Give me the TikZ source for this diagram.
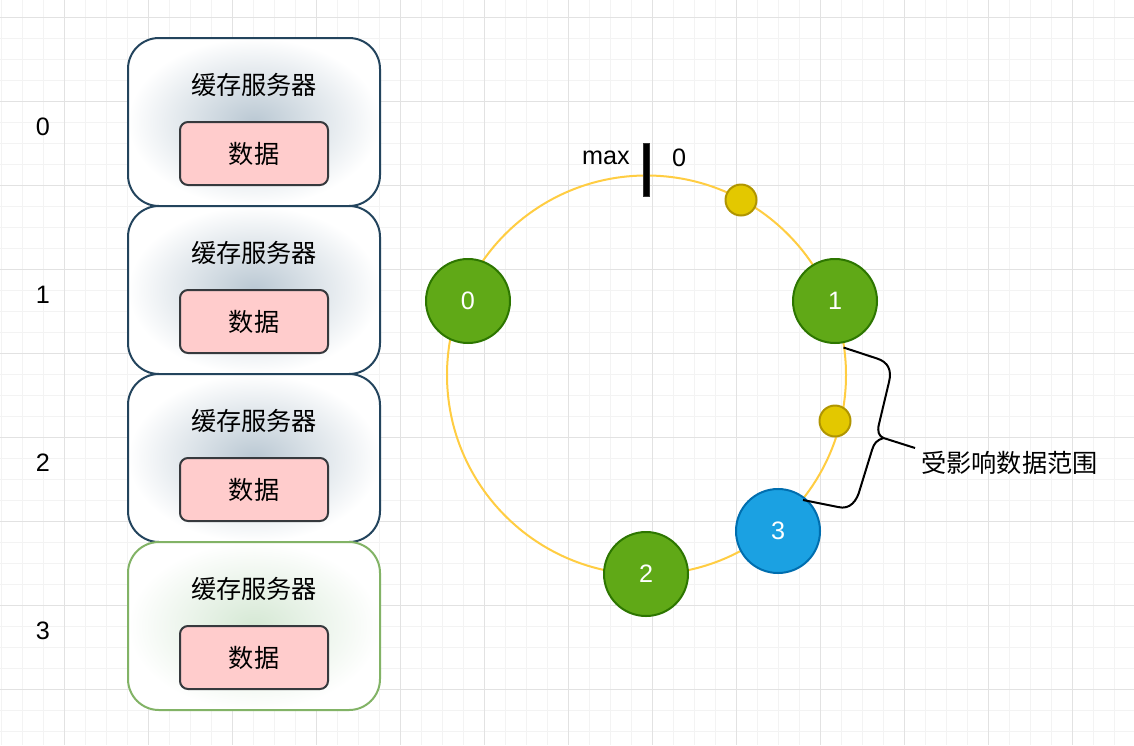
\documentclass[tikz,border=0pt]{standalone}
\usepackage{fontspec}
\setmainfont{Liberation Sans}
\newfontfamily\cjk{Noto Sans CJK SC}
\newcommand\myfs{\fontsize{25.2pt}{30pt}\selectfont}
\definecolor{gridminor}{HTML}{F3F3F3}
\definecolor{gridmajor}{HTML}{E2E2E2}
\definecolor{srvblue}{HTML}{23445D}
\definecolor{srvbluefill}{HTML}{BAC8D3}
\definecolor{srvgreen}{HTML}{82B366}
\definecolor{srvgreenfill}{HTML}{D5E8D4}
\definecolor{datafill}{HTML}{FFCCCC}
\definecolor{datadraw}{HTML}{36393D}
\definecolor{ringcol}{HTML}{FFCD42}
\definecolor{nodegreen}{HTML}{60A917}
\definecolor{nodegreendraw}{HTML}{2D7600}
\definecolor{nodeblue}{HTML}{1BA1E2}
\definecolor{nodebluedraw}{HTML}{006EAF}
\definecolor{keyfill}{HTML}{E3C800}
\definecolor{keydraw}{HTML}{B09500}
\begin{document}
\begin{tikzpicture}[x=1pt,y=-1pt,
  server/.style={draw=srvblue, line width=2pt, rounded corners=31pt,
    minimum width=252pt, minimum height=168pt, inner sep=0pt,
    inner color=srvbluefill, outer color=white},
  servergreen/.style={server, draw=srvgreen, inner color=srvgreenfill},
  title/.style={font=\cjk\myfs, inner sep=0pt, yshift=-1.5pt},
  databox/.style={draw=datadraw, fill=datafill, line width=2pt, rounded corners=8pt,
    minimum width=148pt, minimum height=63pt, inner sep=0pt, font=\cjk\myfs},
  idx/.style={font=\myfs, inner sep=0pt, yshift=-1.5pt},
  hashnode/.style={circle, draw=nodegreendraw, fill=nodegreen, line width=2pt,
    minimum size=84pt, inner sep=0pt, text=white, font=\myfs},
  hashblue/.style={hashnode, draw=nodebluedraw, fill=nodeblue},
  keydot/.style={circle, draw=keydraw, fill=keyfill, line width=2pt,
    minimum size=31pt, inner sep=0pt},
]
% background and grid
\fill[white] (0,0) rectangle (1134,745);
\useasboundingbox (0,0) rectangle (1134,745);
\foreach \x in {1.3,22.3,...,1134} \draw[gridminor, line width=1pt] (\x,0) -- (\x,745);
\foreach \y in {17.3,38.3,...,745} \draw[gridminor, line width=1pt] (0,\y) -- (1134,\y);
\foreach \x in {64.3,148.3,...,1134} \draw[gridmajor, line width=1pt] (\x,0) -- (\x,745);
\foreach \y in {17.3,101.3,...,745} \draw[gridmajor, line width=1pt] (0,\y) -- (1134,\y);

% left column: index labels
\node[idx] (i0) at (43,125) {0};
\node[idx] (i1) at (43,293) {1};
\node[idx] (i2) at (43,461) {2};
\node[idx] (i3) at (43,629) {3};

% server boxes
\node[server] (s0) at (254,122) {};
\node[server] (s1) at (254,290) {};
\node[server] (s2) at (254,458) {};
\node[servergreen] (s3) at (254,626) {};

\foreach \n/\yy in {0/122,1/290,2/458,3/626}{
  \node[title] (t\n) at (254,\yy-39) {缓存服务器};
  \node[databox] (d\n) at (254,\yy+31.5) {\raisebox{-1.5pt}{数据}};
}

% hash ring
\node[circle, draw=ringcol, line width=2pt, minimum size=399pt, inner sep=0pt] (ring) at (646.5,375) {};
\node[fill=black, draw=black!80, line width=0.5pt, minimum width=6pt, minimum height=53pt, inner sep=0pt] (bar) at (646.5,169.5) {};
\node[idx] (maxl) at (606,156) {max};
\node[idx] (zerol) at (679,156) {0};

% key dots
\node[keydot] (k1) at (741,200) {};
\node[keydot] (k2) at (835,421) {};

% hash nodes
\node[hashnode] (h0) at (468,301) {\raisebox{-1pt}{0}};
\node[hashnode] (h1) at (835,301) {\raisebox{-1pt}{1}};
\node[hashnode] (h2) at (646,574) {\raisebox{-1pt}{2}};
\node[hashblue] (h3) at (778,531) {\raisebox{-1pt}{3}};

% brace
\coordinate (bt) at (843.5,347.5);
\coordinate (bb) at (803,500);
\coordinate (tip) at (883.5,438);
\coordinate (tipend) at (915,448);
\draw[black, line width=2pt, line join=round]
  (bt) -- (877,358.5) .. controls (888,362) and (892,370) .. (889,382)
  -- (879,424) .. controls (877,432) and (879,436) .. (tip)
  .. controls (877,440) and (874,443) .. (872,450)
  -- (860,489) .. controls (857,501) and (850,510) .. (838,507) -- (bb);
\draw[black, line width=2pt] (tip) -- (tipend);
\node[title, anchor=west] (lbl) at (921,461) {受影响数据范围};
\end{tikzpicture}
\end{document}
